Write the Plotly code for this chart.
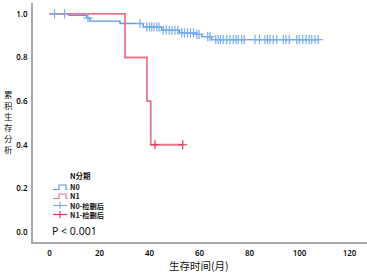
import numpy as np
import plotly.graph_objects as go

# ---- data ----
n0_event_times = [7.8, 14.9, 16.2, 28.2, 37.5, 44.9, 51.9, 58.6, 60.9, 64.9]
n0_survival = [0.994, 0.982, 0.967, 0.956, 0.940, 0.925, 0.913, 0.906, 0.896, 0.882]
n0_end = 108.0
n0_censor_times = [2.0, 6.0, 15.4, 36.2, 38.9, 40.0, 40.9, 41.8, 42.9, 43.8,
                   45.5, 46.7, 47.9, 49.0, 50.2, 51.4, 52.9, 54.0, 55.2, 56.4, 57.6,
                   58.9, 59.8, 63.3, 64.2, 66.5, 67.5, 68.4, 69.5, 70.9, 72.2, 73.5,
                   74.6, 75.5, 76.9, 77.9, 82.2, 84.0, 86.2, 87.2, 88.2, 89.5, 90.9,
                   93.5, 94.6, 95.9, 98.9, 99.9, 101.3, 102.6, 103.9, 104.9, 106.2, 107.5]

n1_event_times = [30.2, 39.0, 40.5]
n1_survival = [0.80, 0.60, 0.40]
n1_end = 53.3
n1_censor_times = [42.2, 53.3]

x_ticks = [0, 20, 40, 60, 80, 100, 120]
y_ticks = [0.0, 0.2, 0.4, 0.6, 0.8, 1.0]

legend_title = "N分期"
legend_labels = ["N0", "N1", "N0-检删后", "N1-检删后"]

c_n0 = "#5b98e0"
c_n0_cens = "#78aef0"
c_n1 = "#e8768c"
c_n1_cens = "#d8385a"

FONT = "Noto Sans, Noto Sans CJK SC, sans-serif"
CJK = "Noto Sans CJK SC, Noto Sans, sans-serif"


def step_xy(times, surv, end):
    xs = [0.0] + list(times) + [end]
    ys = [1.0] + list(surv) + [surv[-1]]
    return xs, ys


def surv_at(times, surv, t):
    idx = np.searchsorted(np.array(times), np.array(t), side="right")
    levels = np.array([1.0] + list(surv))
    return levels[idx]


fig = go.Figure()

x0, y0 = step_xy(n0_event_times, n0_survival, n0_end)
x1, y1 = step_xy(n1_event_times, n1_survival, n1_end)

fig.add_trace(go.Scatter(x=x0, y=y0, mode="lines", line=dict(color=c_n0, width=1.4, shape="hv"),
                         showlegend=False, hoverinfo="skip"))
fig.add_trace(go.Scatter(x=x1, y=y1, mode="lines", line=dict(color=c_n1, width=1.8, shape="hv"),
                         showlegend=False, hoverinfo="skip"))
fig.add_trace(go.Scatter(x=n0_censor_times, y=surv_at(n0_event_times, n0_survival, n0_censor_times),
                         mode="markers",
                         marker=dict(symbol="cross-thin", size=6.5, line=dict(color=c_n0_cens, width=1.2)),
                         showlegend=False, hoverinfo="skip"))
fig.add_trace(go.Scatter(x=n1_censor_times, y=surv_at(n1_event_times, n1_survival, n1_censor_times),
                         mode="markers",
                         marker=dict(symbol="cross-thin", size=6.5, line=dict(color=c_n1_cens, width=1.2)),
                         showlegend=False, hoverinfo="skip"))

W, H = 367, 274
ML, MR, MT, MB = 33, 0, 3, 32
PW, PH = W - ML - MR, H - MT - MB


def px(xp):
    return (xp - ML) / PW


def py(yp):
    return 1 - (yp - MT) / PH


annotations = []
shapes = []

# y title: stacked characters
ytitle = "累积生存分析"
annotations.append(dict(text="<br>".join(ytitle), xref="paper", yref="paper", x=px(8), y=py(121),
                        xanchor="center", yanchor="middle", showarrow=False,
                        font=dict(family=CJK, size=8.5, color="#111")))

# x title
annotations.append(dict(text="生存时间(月)", xref="paper", yref="paper", x=px(199), y=py(265),
                        xanchor="center", yanchor="middle", showarrow=False,
                        font=dict(family=CJK, size=10.5, color="#111")))

# p value
annotations.append(dict(text="P < 0.001", xref="x", yref="y", x=0.3, y=0.006,
                        xanchor="left", yanchor="middle", showarrow=False,
                        font=dict(family=FONT, size=10.5, color="#111")))

# manual legend
annotations.append(dict(text=legend_title, xref="paper", yref="paper", x=px(68), y=py(175),
                        xanchor="left", yanchor="middle", showarrow=False,
                        font=dict(family=CJK, size=7.5, color="#111", weight=600)))
item_y = [187.5, 196.5, 205.5, 214.5]
item_col = [c_n0, c_n1, c_n0_cens, c_n1_cens]
annotations.append(dict(text="<br>".join(legend_labels), xref="paper", yref="paper",
                        x=px(67.5), y=py((item_y[0] + item_y[-1]) / 2),
                        xanchor="left", yanchor="middle", align="left", showarrow=False,
                        font=dict(family=CJK, size=7.2, color="#111", weight=600)))
for i, (yc, col) in enumerate(zip(item_y, item_col)):
    if i < 2:
        lo, hi = yc + 2, yc - 2.5
        path = (f"M {px(53)},{py(lo)} L {px(59)},{py(lo)} L {px(59)},{py(hi)} "
                f"L {px(66)},{py(hi)} L {px(66)},{py(lo)} L {px(67.5)},{py(lo)}")
        shapes.append(dict(type="path", xref="paper", yref="paper", path=path,
                           line=dict(color=col, width=1.2)))
    else:
        shapes.append(dict(type="line", xref="paper", yref="paper", x0=px(53), x1=px(67),
                           y0=py(yc), y1=py(yc), line=dict(color=col, width=1.2)))
        shapes.append(dict(type="line", xref="paper", yref="paper", x0=px(60), x1=px(60),
                           y0=py(yc - 3.5), y1=py(yc + 3.5), line=dict(color=col, width=1.2)))

fig.update_layout(
    width=W, height=H,
    margin=dict(l=ML, r=MR, t=MT, b=MB, pad=0),
    paper_bgcolor="white", plot_bgcolor="white",
    showlegend=False,
    annotations=annotations,
    shapes=shapes,
    xaxis=dict(range=[-6.6, 127], tickvals=x_ticks, showgrid=False, zeroline=False,
               showline=True, linecolor="#a8a8a8", linewidth=1.5, ticks="",
               tickfont=dict(family=FONT, size=8, color="#111", weight=600), ticklabelstandoff=3),
    yaxis=dict(range=[-0.046, 1.05], tickvals=y_ticks, tickformat=".1f", showgrid=False,
               zeroline=False, showline=True, linecolor="#a8a8a8", linewidth=1.5, ticks="",
               tickfont=dict(family=FONT, size=8, color="#111", weight=600), ticklabelstandoff=2),
)

fig.write_html("out.html", config={"displayModeBar": False},
               post_script="document.body.style.margin='0';document.body.style.padding='0';")
